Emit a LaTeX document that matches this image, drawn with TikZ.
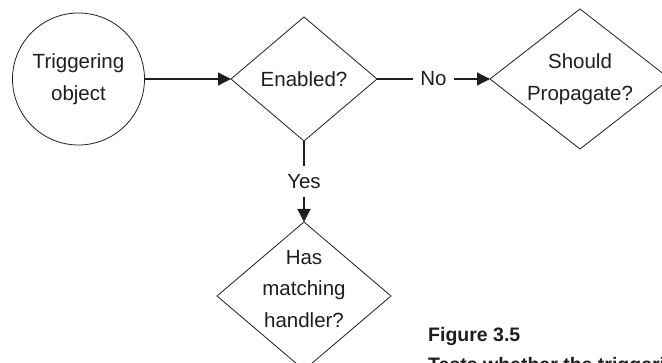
\documentclass[tikz,border=0pt]{standalone}
\usepackage{fontspec}
\setmainfont{Liberation Sans}
\usetikzlibrary{shapes.geometric,arrows.meta}
\definecolor{ink}{HTML}{1E1E1E}
\begin{document}
\begin{tikzpicture}[x=1pt,y=-1pt,
  every node/.style={text=ink},
  lbl/.style={font=\fontsize{20.5}{31.5}\selectfont, align=center, inner sep=0pt},
  decision/.style={diamond, draw=ink, line width=0.8pt, inner sep=0pt, outer sep=0pt},
  startnode/.style={circle, draw=ink, line width=0.8pt, minimum size=132pt, inner sep=0pt, outer sep=0pt},
  flow/.style={draw=ink, line width=1.3pt, -{Triangle[length=13pt,width=13pt]}},
  tag/.style={font=\fontsize{20.5}{24}\selectfont, fill=white, inner xsep=7pt, inner ysep=8pt},
  caption/.style={font=\bfseries\fontsize{19.5}{30}\selectfont, align=left, inner sep=0pt, anchor=base west}]
  \useasboundingbox (0,0) rectangle (662,363);
  \clip (0,0) rectangle (662,363);

  % shapes
  \node[startnode] (trig) at (78.5,79) {};
  \node[lbl] (trigtext) at (trig) {Triggering\\object};

  \node[decision, minimum width=146pt, minimum height=124pt] (enabled) at (304,79) {};
  \node[lbl] (enabledtext) at (enabled) {Enabled?};

  \node[decision, minimum width=180pt, minimum height=140pt] (should) at (580,79) {};
  \node[lbl] (shouldtext) at (should) {Should\\Propagate?};

  \node[decision, minimum width=174pt, minimum height=148pt] (hasmatch) at (304,296) {};
  \node[lbl] (hastext) at (304,289) {Has\\matching\\handler?};

  % connectors
  \draw[flow] (trig.east) -- (enabled.west);
  \draw[flow] (enabled.east) -- node[tag] (no) {No} (should.west);
  \draw[flow] (enabled.south) -- node[tag] (yes) {Yes} (hasmatch.north);

  % caption
  \node[caption] (figcap) at (428,342) {Figure 3.5};
  \node[caption] (figdesc) at (428,372) {Tests whether the triggering object};
\end{tikzpicture}
\end{document}
